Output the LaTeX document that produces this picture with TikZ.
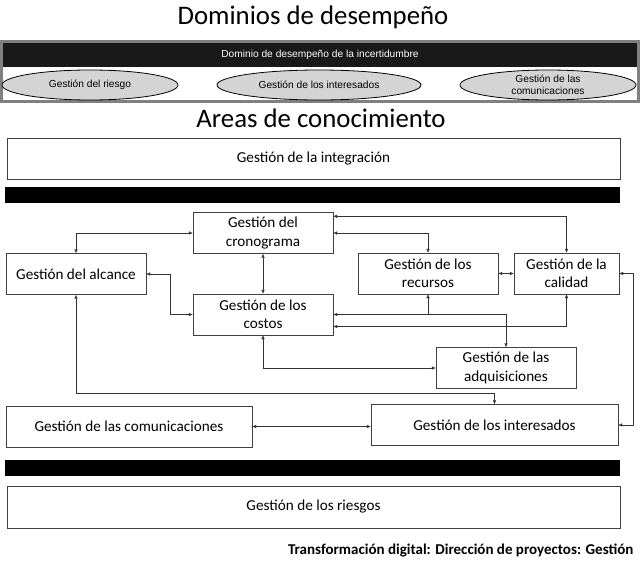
\documentclass[tikz,border=0pt]{standalone}
\usepackage{fontspec}
\setmainfont{Carlito}
\newfontfamily\arialfont{Liberation Sans}
\usetikzlibrary{shapes.geometric, arrows.meta}
\tikzset{
>={Latex[length=4pt,width=3.5pt]},
  areabox/.style={
    rectangle,
    draw=black!75, thin,
    fill=white,
    inner sep=0pt,
    minimum width=140pt,
    minimum height=41pt,
    font=\fontsize{15.2}{18.5}\selectfont,
    align=center},
  widebox/.style={areabox, minimum width=613pt},
  dominio/.style={
    ellipse,
    draw=black, thick,
    fill=black!17,
    inner sep=0pt,
    minimum height=30pt,
    font=\arialfont\fontsize{10.2}{12.5}\selectfont,
    align=center},
  line/.style={draw=black!80, thin, <->},
  bar/.style={fill=black},
  title/.style={font=\fontsize{26.8}{30}\selectfont},
}
\begin{document}
\begin{tikzpicture}[x=1pt, y=-1pt]
  \useasboundingbox (0,0) rectangle (640,567);
  \node[title] (DominiosTitle) at (313,17) {Dominios de desempeño};
  \draw[black!50, line width=3pt] (1.5,41.5) rectangle (638.5,101.5);
  \node[fill=black!90, text=white, minimum width=634pt, minimum height=24pt, inner sep=0pt,
        font=\arialfont\fontsize{10.2}{12}\selectfont] (Incertidumbre) at (320,55) {Dominio de desempeño de la incertidumbre};
  \node[dominio, minimum width=176pt] (DomRiesgo)         at (90,85)  {Gestión del riesgo};
  \node[dominio, minimum width=204pt] (DomInteresados)    at (319,85) {Gestión de los interesados};
  \node[dominio, minimum width=176pt] (DomComunicaciones) at (548,85) {Gestión de las\\comunicaciones};
  \node[title] (AreasTitle) at (321,118) {Areas de conocimiento};

  \node[widebox] (Integracion) at (313.5,158.5) {Gestión de la integración};
  \fill[bar] (5,187) rectangle (620,203);
  \node[areabox] (Cronograma)    at (263,233)   {Gestión del\\cronograma};
  \node[areabox] (Alcance)       at (76,274)    {Gestión del alcance};
  \node[areabox] (Costos)        at (263,314.5) {Gestión de los\\costos};
  \node[areabox] (Recursos)      at (428,273.5) {Gestión de los\\recursos};
  \node[areabox, minimum width=105pt] (Calidad) at (566.5,273.5) {Gestión de la\\calidad};
  \node[areabox] (Adquisiciones) at (506,368)   {Gestión de las\\adquisiciones};
  \node[areabox, minimum width=247pt] (Interesados)    at (494.5,425) {Gestión de los interesados};
  \node[areabox, minimum width=246pt] (Comunicaciones) at (129,426.5) {Gestión de las comunicaciones};
  \fill[bar] (5,460) rectangle (620,476);
  \node[widebox, minimum height=42pt] (Riesgos) at (313.5,507) {Gestión de los riesgos};
  \node[anchor=east, font=\bfseries\fontsize{15}{18}\selectfont] (Fuente) at (637,550)
       {Transformación digital: Dirección de proyectos: Gestión};

  \path[line] (Alcance.north) |- (Cronograma.west);
  \path[line] (Alcance.east) -- ++(24,0) |- (Costos.west);
  \path[line] (Cronograma.south) -- (Costos.north);
  \path[line] ([yshift=-4pt]Cronograma.north east) -| (Calidad.north);
  \path[line] (Cronograma.east) -| (Recursos.north);
  \path[line] (Recursos.east) -- (Calidad.west);
  \path[line] (Costos.east) -| (Recursos.south);
  \path[line, <-] (Adquisiciones.north) |- (Recursos.south |- Costos.east);
  \path[line] ([yshift=-12pt]Costos.east) -| (Calidad.south);
  \path[line] (Costos.south) |- (Adquisiciones.west);
  \path[line] (Alcance.south) -- ++(0,98) -| (Interesados.north);
  \path[line] (Comunicaciones.east) -- (Comunicaciones.east -| Interesados.west);
  \path[line] (Calidad.east) -- ++(14,0) |- (Interesados.east);
\end{tikzpicture}
\end{document}
